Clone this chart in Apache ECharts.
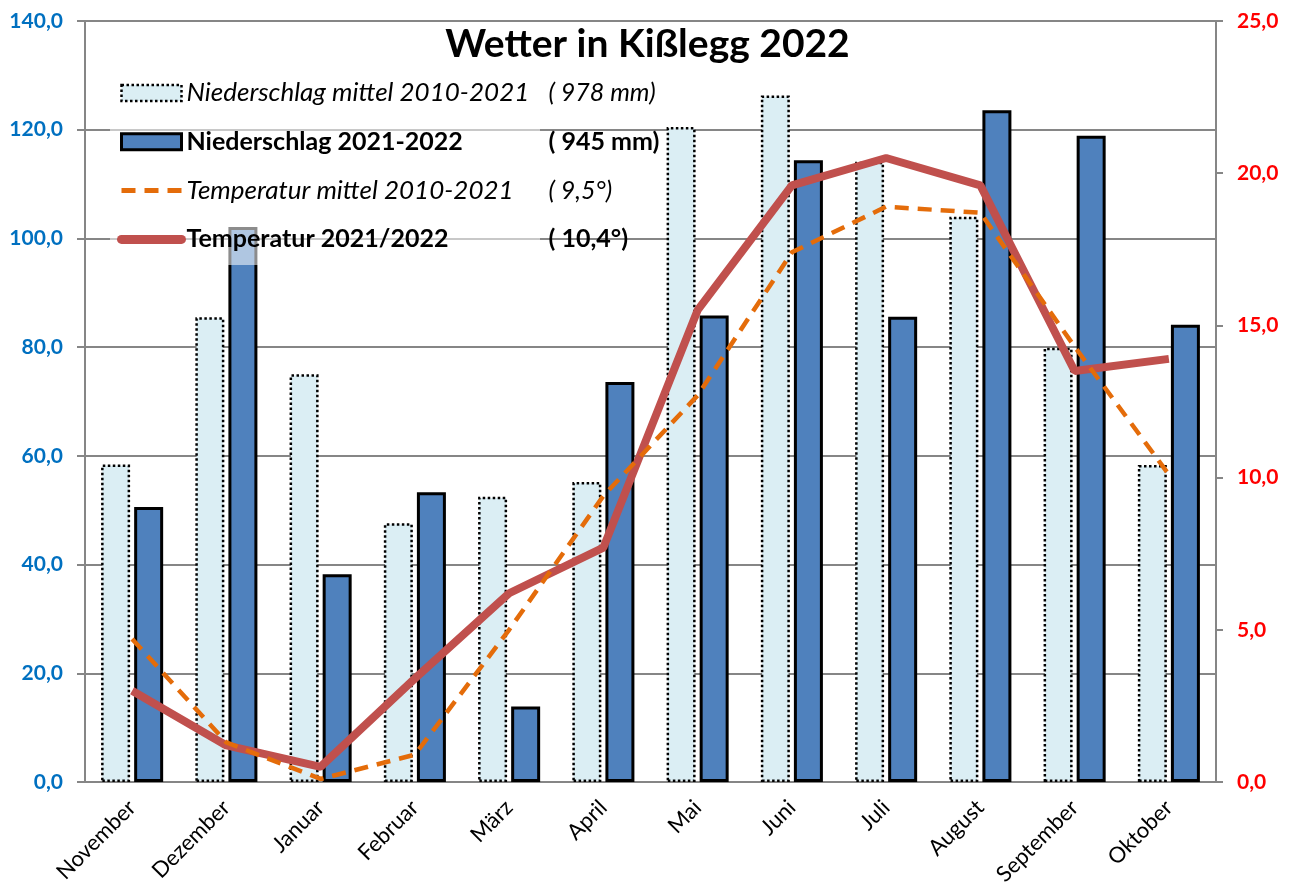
<!DOCTYPE html>
<html>
<head>
<meta charset="utf-8">
<title>Wetter in Kißlegg 2022</title>
<script src="https://cdn.jsdelivr.net/npm/echarts@6/dist/echarts.min.js"></script>
<style>
  html, body { margin: 0; padding: 0; background: #fff; }
  #chart { width: 1295px; height: 884px; }
</style>
</head>
<body>
<div id="chart"></div>
<script>
const months = ['November', 'Dezember', 'Januar', 'Februar', 'März', 'April', 'Mai', 'Juni', 'Juli', 'August', 'September', 'Oktober'];
const rainMean = [58.4, 85.5, 75.0, 47.6, 52.5, 55.2, 120.5, 126.3, 114.1, 104.0, 79.9, 58.3];
const rain2022 = [50.6, 102.1, 38.2, 53.3, 13.9, 73.6, 85.8, 114.4, 85.6, 123.6, 118.9, 84.1];
const tempMean = [4.7, 1.3, 0.1, 0.9, 5.0, 9.4, 12.7, 17.4, 18.9, 18.7, 14.3, 10.1];
const temp2022 = [3.0, 1.2, 0.5, 3.4, 6.2, 7.7, 15.5, 19.6, 20.5, 19.6, 13.5, 13.9];

const seriesNames = ['Niederschlag mittel 2010-2021', 'Niederschlag 2021-2022', 'Temperatur mittel 2010-2021', 'Temperatur 2021/2022'];
const seriesNotes = ['( 978 mm)', '( 945 mm)', '( 9,5°)', '( 10,4°)'];

const font = 'Lato, "Liberation Sans", sans-serif';
const gridColor = '#868686';
const fmt = v => v.toFixed(1).replace('.', ',');

const chart = echarts.init(document.getElementById('chart'), null, { renderer: 'canvas' });

const option = {
  backgroundColor: '#fff',
  animation: false,
  title: {
    text: 'Wetter in Kißlegg 2022',
    left: 'center',
    top: 25,
    padding: 0,
    textStyle: { fontFamily: font, fontSize: 39, fontWeight: 'bold', color: '#000' }
  },
  graphic: [
    {
      // halbtransparenter Hintergrund der Legende
      type: 'rect',
      left: 110,
      top: 66,
      z: 3,
      shape: { width: 430, height: 199 },
      style: { fill: 'rgba(255,255,255,0.55)' }
    }
  ],
  legend: {
    orient: 'vertical',
    left: 117,
    top: 80,
    padding: 0,
    itemWidth: 60,
    itemHeight: 16,
    itemGap: 23.3,
    selectedMode: false,
    data: [
      { name: seriesNames[0], icon: 'rect', itemStyle: { borderWidth: 2.5, borderType: 'dotted', borderColor: '#000' } },
      { name: seriesNames[1], icon: 'rect', itemStyle: { borderWidth: 3, borderColor: '#000' } },
      { name: seriesNames[2], itemStyle: { opacity: 0 }, lineStyle: { width: 5, type: [14, 9] } },
      { name: seriesNames[3], itemStyle: { opacity: 0 }, lineStyle: { width: 9, cap: 'round' } }
    ],
    formatter: name => {
      const i = seriesNames.indexOf(name);
      const k = i % 2 === 0 ? 'i' : 'b';
      return `{n${k}|${name}}{v${k}|${seriesNotes[i]}}`;
    },
    textStyle: {
      fontFamily: font,
      color: '#000',
      rich: {
        ni: { fontFamily: font, fontSize: 26, fontStyle: 'italic', width: 362, lineHeight: 28, color: '#000' },
        vi: { fontFamily: font, fontSize: 25, fontStyle: 'italic', lineHeight: 28, color: '#000' },
        nb: { fontFamily: font, fontSize: 25, fontWeight: 'bold', width: 362, lineHeight: 28, color: '#000' },
        vb: { fontFamily: font, fontSize: 25, fontWeight: 'bold', lineHeight: 28, color: '#000' }
      }
    }
  },
  grid: { left: 85, right: 79, top: 21, bottom: 102, outerBoundsMode: 'none' },
  xAxis: {
    type: 'category',
    data: months,
    axisLine: { lineStyle: { color: gridColor, width: 2 } },
    axisTick: { length: 8, lineStyle: { color: gridColor, width: 2 } },
    axisLabel: { rotate: 45, margin: 22, fontFamily: font, fontSize: 22, color: '#000' }
  },
  yAxis: [
    {
      type: 'value',
      min: 0,
      max: 140,
      interval: 20,
      axisLine: { show: true, lineStyle: { color: gridColor, width: 2 } },
      axisTick: { show: true, length: 8, lineStyle: { color: gridColor, width: 2 } },
      axisLabel: { margin: 22, fontFamily: font, fontSize: 21, fontWeight: 'bold', color: '#0070c0', formatter: fmt },
      splitLine: { lineStyle: { color: gridColor, width: 2 } }
    },
    {
      type: 'value',
      position: 'right',
      min: 0,
      max: 25,
      interval: 5,
      axisLine: { show: true, lineStyle: { color: gridColor, width: 2 } },
      axisTick: { show: true, length: 7, lineStyle: { color: gridColor, width: 2 } },
      axisLabel: { margin: 21, fontFamily: font, fontSize: 21, fontWeight: 'bold', color: '#ff0000', formatter: fmt },
      splitLine: { show: false }
    }
  ],
  series: [
    {
      name: seriesNames[0],
      type: 'bar',
      barWidth: 29,
      barGap: '14%',
      data: rainMean,
      itemStyle: { color: '#dbeef4', borderColor: '#000', borderWidth: 2.5, borderType: 'dotted' }
    },
    {
      name: seriesNames[1],
      type: 'bar',
      barWidth: 29,
      barGap: '14%',
      data: rain2022,
      itemStyle: { color: '#4f81bd', borderColor: '#000', borderWidth: 3 }
    },
    {
      name: seriesNames[3],
      type: 'line',
      yAxisIndex: 1,
      symbol: 'none',
      data: temp2022,
      itemStyle: { color: '#c0504d' },
      lineStyle: { color: '#c0504d', width: 8 }
    },
    {
      name: seriesNames[2],
      type: 'line',
      yAxisIndex: 1,
      symbol: 'none',
      data: tempMean,
      itemStyle: { color: '#e46c0a' },
      lineStyle: { color: '#e46c0a', width: 4.5, type: [14, 9] }
    }
  ]
};

chart.setOption(option);
</script>
</body>
</html>
